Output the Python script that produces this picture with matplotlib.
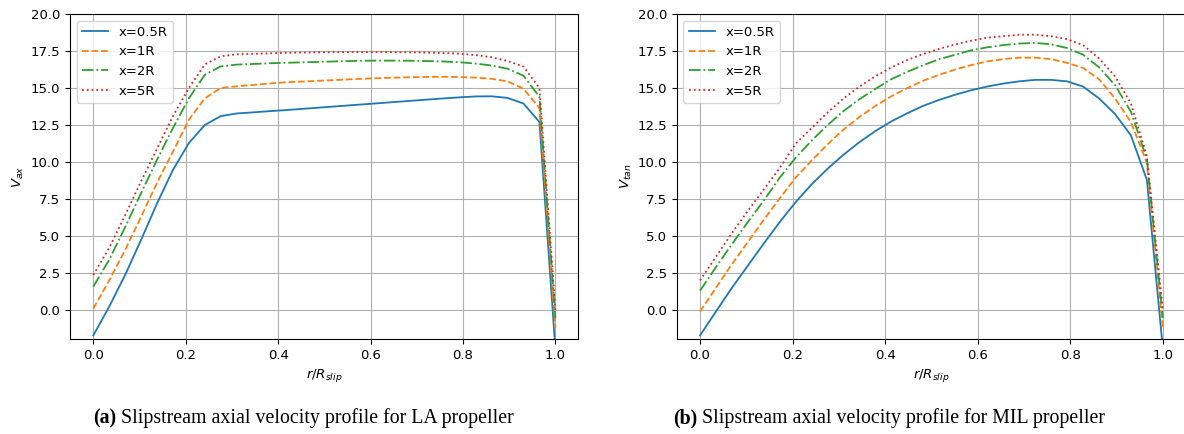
import numpy as np
import matplotlib
matplotlib.use("Agg")
import matplotlib.pyplot as plt

# radial stations r/R_slip
r = np.linspace(0, 1, 30)
labels = ["x=0.5R", "x=1R", "x=2R", "x=5R"]

# LA propeller, axial velocity
la_05 = [-1.72, 0.23, 2.37, 4.74, 7.2, 9.47, 11.28, 12.5, 13.1, 13.28,
         13.35, 13.43, 13.5, 13.58, 13.66, 13.74, 13.82, 13.9, 13.98, 14.06,
         14.14, 14.22, 14.3, 14.37, 14.43, 14.44, 14.33, 13.95, 12.7, -2.6]
la_1 = [0.1, 2.0, 4.06, 6.3, 8.6, 10.7, 12.85, 14.3, 15.0, 15.12,
        15.2, 15.3, 15.38, 15.43, 15.48, 15.53, 15.58, 15.63, 15.67, 15.7,
        15.73, 15.75, 15.76, 15.74, 15.7, 15.62, 15.45, 14.95, 13.65, -1.2]
la_2 = [1.58, 3.4, 5.6, 7.9, 10.15, 12.3, 14.3, 15.9, 16.46, 16.58,
        16.62, 16.67, 16.7, 16.73, 16.76, 16.79, 16.82, 16.84, 16.85, 16.85,
        16.84, 16.82, 16.79, 16.74, 16.65, 16.52, 16.3, 15.83, 14.4, -0.55]
la_5 = [2.37, 4.2, 6.4, 8.7, 10.9, 13.1, 15.0, 16.6, 17.14, 17.28,
        17.31, 17.34, 17.37, 17.39, 17.41, 17.42, 17.43, 17.43, 17.43, 17.42,
        17.41, 17.39, 17.36, 17.32, 17.22, 17.08, 16.82, 16.45, 15.0, 0.0]

# MIL propeller
mil_05 = [-1.72, -0.1, 1.5, 3.0, 4.5, 5.95, 7.3, 8.5, 9.55, 10.5,
          11.35, 12.1, 12.75, 13.3, 13.8, 14.2, 14.55, 14.85, 15.1, 15.3,
          15.45, 15.55, 15.55, 15.45, 15.1, 14.3, 13.25, 11.8, 8.8, -2.6]
mil_1 = [-0.1, 1.5, 3.1, 4.6, 6.1, 7.55, 8.95, 10.1, 11.2, 12.2,
         13.05, 13.8, 14.45, 15.0, 15.5, 15.9, 16.25, 16.55, 16.8, 16.95,
         17.05, 17.05, 16.95, 16.7, 16.35, 15.6, 14.3, 12.7, 9.95, -1.2]
mil_2 = [1.3, 2.9, 4.45, 5.95, 7.4, 8.95, 10.3, 11.45, 12.5, 13.45,
         14.25, 14.95, 15.6, 16.1, 16.55, 16.95, 17.25, 17.55, 17.75, 17.9,
         18.0, 18.05, 17.95, 17.7, 17.25, 16.4, 15.2, 13.4, 10.2, -0.55]
mil_5 = [2.0, 3.6, 5.2, 6.7, 8.15, 9.6, 11.25, 12.3, 13.35, 14.3,
         15.1, 15.8, 16.4, 16.9, 17.3, 17.65, 17.95, 18.2, 18.4, 18.5,
         18.6, 18.6, 18.5, 18.3, 17.9, 17.0, 15.8, 13.95, 10.4, 0.0]

styles = ["-", "--", "-.", ":"]
colors = ["#1f77b4", "#ff7f0e", "#2ca02c", "#d62728"]

fig = plt.figure(figsize=(11.84, 4.34), dpi=100)
ax1 = fig.add_axes([70 / 1184, 1 - 339 / 434, 508 / 1184, 325 / 434])
ax2 = fig.add_axes([676.7 / 1184, 1 - 339 / 434, 508.8 / 1184, 325 / 434])

for ax, data, ylab in [(ax1, [la_05, la_1, la_2, la_5], r"$V_{ax}$"),
                       (ax2, [mil_05, mil_1, mil_2, mil_5], r"$V_{tan}$")]:
    for d, ls, c, lab in zip(data, styles, colors, labels):
        ax.plot(r, d, ls, color=c, lw=1.3, label=lab)
    ax.set_xlim(-0.0504, 1.049)
    ax.set_ylim(-1.96, 20)
    ax.set_yticks(np.arange(0, 20.1, 2.5))
    ax.set_xticks(np.arange(0, 1.01, 0.2))
    ax.grid(True, color="#b0b0b0", lw=0.8)
    ax.tick_params(labelsize=9.5)
    ax.set_xlabel(r"$r/R_{slip}$", fontsize=9.5)
    ax.set_ylabel(ylab, fontsize=9.5)
    ax.legend(loc="upper left", fontsize=9.5)

ax1.yaxis.set_label_coords(-0.087, 0.5)
ax2.yaxis.set_label_coords(-0.083, 0.5)

caps = [(93, "(a)", " Slipstream axial velocity profile for LA propeller"),
        (673, "(b)", " Slipstream axial velocity profile for MIL propeller")]
fig.canvas.draw()
rend = fig.canvas.get_renderer()
for x0, b, rest in caps:
    t = fig.text(x0 / 1184, 1 - 418 / 434, b, fontsize=14.3, weight="bold",
                 family="Liberation Serif", va="center", ha="left")
    bb = t.get_window_extent(renderer=rend)
    fig.text(bb.x1 / 1184, 1 - 418 / 434, rest, fontsize=14.3,
             family="Liberation Serif", va="center", ha="left")

fig.savefig("out.png", dpi=100)
